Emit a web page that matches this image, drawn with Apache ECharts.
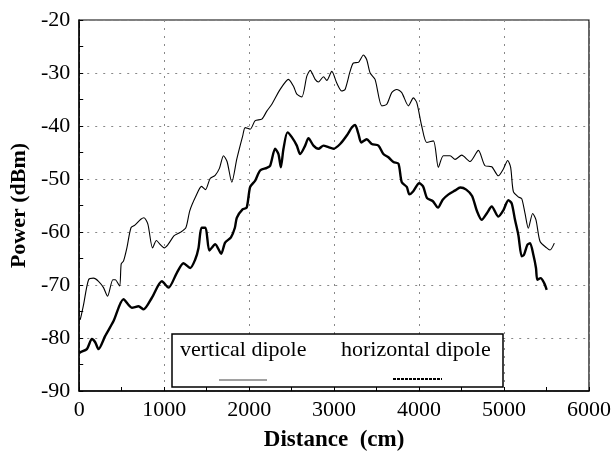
<!DOCTYPE html>
<html>
<head>
<meta charset="utf-8">
<script src="https://cdn.jsdelivr.net/npm/echarts@6/dist/echarts.min.js"></script>
<style>html,body{margin:0;padding:0;background:#fff}#c{width:614px;height:457px}</style>
</head>
<body>
<div id="c"></div>
<script>
var xTicks = [0, 1000, 2000, 3000, 4000, 5000, 6000];
var yTicks = [-90, -80, -70, -60, -50, -40, -30, -20];
var seriesNames = ['vertical dipole', 'horizontal dipole'];

var vDist = [0,12,51,110,168,227,286,333,396,424,475,494,521,561,609,655,725,762,808,863,909,955,1001,1048,1117,1186,1255,1301,1371,1440,1486,1541,1600,1650,1698,1740,1796,1855,1925,1953,2012,2071,2149,2208,2267,2365,2463,2522,2561,2620,2679,2718,2777,2816,2875,2914,2973,3031,3090,3129,3188,3227,3286,3345,3384,3424,3482,3561,3620,3678,3737,3796,3875,3933,3973,4031,4090,4169,4227,4286,4365,4424,4502,4600,4698,4776,4855,4933,4992,5043,5078,5110,5169,5208,5247,5286,5337,5376,5424,5502,5541,5592];
var vPower = [-76.6,-76.5,-73.7,-69,-68.7,-69.3,-70.5,-72.1,-69,-69,-70.2,-66,-65.5,-63,-59.2,-58.7,-57.6,-57.3,-58.5,-63,-61.6,-62.4,-63,-62.3,-60.7,-60.1,-59.2,-56,-53.3,-51.4,-52,-49.9,-49.3,-48,-45.6,-46.7,-50.6,-46.2,-41.8,-40.3,-40.6,-39,-38.7,-37.2,-35.9,-33.1,-31.2,-32.5,-34,-34.5,-30.6,-29.5,-31.2,-31.7,-30.7,-31.4,-29.7,-31.9,-33.4,-33.1,-29.7,-28.1,-28,-26.6,-27.5,-30,-31.2,-36.2,-35.9,-33.7,-33.1,-33.7,-36.2,-34.7,-35.6,-40,-43.1,-42.8,-47.8,-45.6,-45.6,-46.3,-45.5,-46.7,-44.6,-47.5,-47.7,-49.4,-48.1,-46.5,-47.8,-52.4,-53.4,-53.7,-56.5,-59.3,-56.5,-57.7,-61.8,-63,-63.4,-62.1];

var hDist = [0,12,90,149,188,227,306,404,521,620,698,757,855,973,1051,1149,1227,1306,1365,1404,1440,1486,1532,1601,1671,1717,1786,1832,1855,1925,1971,2012,2071,2129,2208,2247,2306,2345,2373,2404,2451,2502,2561,2600,2659,2698,2757,2816,2875,2933,2992,3071,3149,3208,3247,3286,3320,3384,3443,3522,3580,3639,3698,3757,3796,3855,3886,3932,4001,4047,4094,4163,4223,4278,4347,4420,4486,4555,4624,4680,4737,4796,4855,4933,4992,5051,5090,5129,5169,5208,5235,5275,5306,5345,5376,5392,5431,5471,5502];
var hPower = [-82.8,-82.7,-82.1,-80.2,-80.8,-82.1,-79.6,-76.8,-72.7,-74.3,-74,-74.6,-72.4,-69.3,-70.5,-67.7,-65.9,-66.8,-65.2,-63,-59.2,-59.2,-63.5,-62.3,-64.1,-62,-61,-59.2,-57.3,-55.7,-55.4,-51.5,-50.3,-48.4,-47.9,-47.5,-44.3,-45.3,-47.8,-44.3,-41.2,-42.1,-43.7,-45.3,-43.7,-42.3,-43.7,-44.3,-43.7,-44,-44.3,-43.4,-41.8,-40.3,-39.8,-41.5,-43.1,-42.5,-43.4,-43.7,-45.3,-45.9,-46.8,-47.1,-50.6,-51.5,-52.9,-52.3,-50.8,-51.4,-53.6,-54.2,-55.4,-53.9,-52.9,-52.2,-51.6,-52,-53.2,-56,-57.7,-56.5,-55.2,-57.1,-55.9,-54,-54.6,-57.7,-60.6,-64.6,-64.3,-62.4,-62.1,-64.3,-66.8,-69,-68.7,-69.6,-70.9];

function zip(a, b) { var r = []; for (var i = 0; i < a.length; i++) r.push([a[i], b[i]]); return r; }

var serif = '"Liberation Serif", "Times New Roman", serif';
var chart = echarts.init(document.getElementById('c'), null, {renderer: 'canvas'});
chart.setOption({
  animation: false,
  backgroundColor: '#fff',
  grid: {left: 79, top: 20, right: 25, bottom: 63, show: true, borderColor: '#000', borderWidth: 1.2, backgroundColor: 'transparent'},
  xAxis: {
    type: 'value', min: xTicks[0], max: xTicks[xTicks.length - 1], interval: 1000,
    name: 'Distance  (cm)', nameLocation: 'middle', nameGap: 38,
    nameTextStyle: {fontFamily: serif, fontSize: 23, fontWeight: 'bold', color: '#000'},
    axisLine: {show: true, lineStyle: {color: '#000', width: 1.5}},
    axisTick: {show: true, inside: true, length: 4, lineStyle: {color: '#000'}},
    minorTick: {show: true, splitNumber: 2, length: 4, lineStyle: {color: '#000'}},
    axisLabel: {fontFamily: serif, fontSize: 22, color: '#000', margin: 8, showMaxLabel: true, showMinLabel: true,
      formatter: function (v) { return String(v); }},
    splitLine: {show: true, lineStyle: {color: '#888', type: [2, 6], width: 1}}
  },
  yAxis: {
    type: 'value', min: yTicks[0], max: yTicks[yTicks.length - 1], interval: 10,
    name: 'Power (dBm)', nameLocation: 'middle', nameGap: 46, nameRotate: 90,
    nameTextStyle: {fontFamily: serif, fontSize: 22, fontWeight: 'bold', color: '#000'},
    axisLine: {show: true, lineStyle: {color: '#000', width: 1.5}},
    axisTick: {show: true, inside: true, length: 4, lineStyle: {color: '#000'}},
    minorTick: {show: true, splitNumber: 2, length: 4, lineStyle: {color: '#000'}},
    axisLabel: {fontFamily: serif, fontSize: 22, color: '#000', margin: 9,
      formatter: function (v) { return String(v); }},
    splitLine: {show: true, lineStyle: {color: '#888', type: [2, 6], width: 1}}
  },
  series: [
    {name: seriesNames[0], type: 'line', data: zip(vDist, vPower), showSymbol: false, smooth: 0.25,
     lineStyle: {color: '#000', width: 1.1}, z: 3},
    {name: seriesNames[1], type: 'line', data: zip(hDist, hPower), showSymbol: false, smooth: 0.25,
     lineStyle: {color: '#000', width: 2.4}, z: 3}
  ],
  graphic: [
    {type: 'rect', shape: {x: 172, y: 334, width: 331, height: 53}, style: {fill: '#fff', stroke: '#000', lineWidth: 1.5}, z: 10},
    {type: 'text', x: 180, y: 350, style: {text: seriesNames[0], font: '22px ' + serif, fill: '#000', verticalAlign: 'middle'}, z: 11},
    {type: 'text', x: 341, y: 350, style: {text: seriesNames[1], font: '22px ' + serif, fill: '#000', verticalAlign: 'middle'}, z: 11},
    {type: 'line', shape: {x1: 219, y1: 380, x2: 267, y2: 380}, style: {stroke: '#444', lineWidth: 1.2}, z: 11},
    {type: 'line', shape: {x1: 393, y1: 379, x2: 442, y2: 379}, style: {stroke: '#000', lineWidth: 2, lineDash: [3, 1]}, z: 11}
  ]
});
</script>
</body>
</html>
